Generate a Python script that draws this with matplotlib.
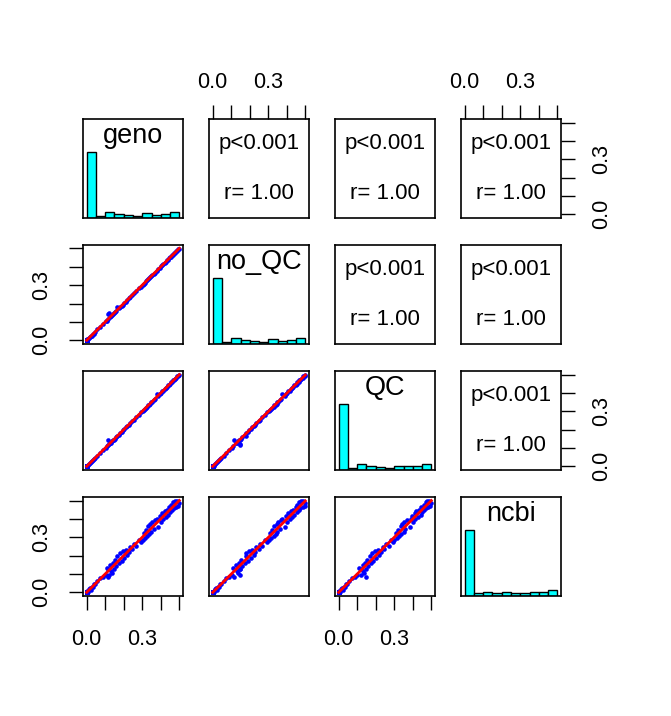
import numpy as np
import matplotlib
matplotlib.use("Agg")
import matplotlib.pyplot as plt

plt.rcParams['font.family'] = ['Liberation Sans', 'DejaVu Sans']

# variable names on the diagonal
names = ["geno", "no_QC", "QC", "ncbi"]

# number of records sitting at zero in every variable (the tall first bar)
n_zero = 110

# non-zero values
geno = [0.004, 0.008, 0.013, 0.018, 0.022, 0.027, 0.033, 0.038, 0.044,
        0.058, 0.071, 0.088,
        0.102, 0.108, 0.113, 0.117, 0.122, 0.128, 0.131, 0.137, 0.142, 0.147,
        0.152, 0.158, 0.166, 0.173, 0.181, 0.188, 0.196,
        0.203, 0.211, 0.219, 0.228, 0.236, 0.247,
        0.256, 0.268, 0.281, 0.293,
        0.302, 0.308, 0.314, 0.321, 0.327, 0.333, 0.338, 0.343, 0.349,
        0.353, 0.361, 0.368, 0.377, 0.386, 0.394,
        0.402, 0.409, 0.414, 0.421, 0.428, 0.434, 0.441, 0.447,
        0.451, 0.457, 0.463, 0.468, 0.472, 0.478, 0.483, 0.489, 0.494, 0.500]

no_qc = [0.005, 0.009, 0.012, 0.019, 0.023, 0.026, 0.034, 0.037, 0.045,
         0.059, 0.072, 0.087,
         0.103, 0.107, 0.114, 0.146, 0.149, 0.127, 0.132, 0.138, 0.141, 0.148,
         0.153, 0.157, 0.180, 0.174, 0.182, 0.189, 0.195,
         0.204, 0.210, 0.221, 0.229, 0.235, 0.248,
         0.257, 0.267, 0.283, 0.292,
         0.303, 0.309, 0.313, 0.322, 0.328, 0.332, 0.339, 0.344, 0.348,
         0.354, 0.362, 0.369, 0.376, 0.387, 0.393,
         0.403, 0.408, 0.415, 0.422, 0.427, 0.435, 0.440, 0.448,
         0.452, 0.456, 0.464, 0.467, 0.473, 0.477, 0.484, 0.488, 0.495, 0.499]

qc = [0.004, 0.009, 0.014, 0.018, 0.021, 0.028, 0.032, 0.039, 0.043,
      0.057, 0.073, 0.089,
      0.101, 0.109, 0.145, 0.118, 0.121, 0.129, 0.130, 0.136, 0.143, 0.146,
      0.151, 0.159, 0.167, 0.172, 0.180, 0.187, 0.197,
      0.202, 0.212, 0.218, 0.227, 0.237, 0.246,
      0.255, 0.269, 0.280, 0.294,
      0.301, 0.307, 0.315, 0.320, 0.326, 0.334, 0.337, 0.342, 0.350,
      0.352, 0.360, 0.367, 0.392, 0.385, 0.395,
      0.401, 0.410, 0.413, 0.420, 0.429, 0.433, 0.442, 0.446,
      0.450, 0.458, 0.462, 0.469, 0.471, 0.479, 0.482, 0.490, 0.493, 0.500]

ncbi = [0.008, 0.004, 0.017, 0.021, 0.015, 0.030, 0.028, 0.044, 0.047,
        0.062, 0.079, 0.083,
        0.095, 0.131, 0.082, 0.126, 0.093, 0.149, 0.117, 0.104, 0.161, 0.128,
        0.176, 0.143, 0.198, 0.160, 0.212, 0.171, 0.224,
        0.187, 0.233, 0.205, 0.221, 0.247, 0.239,
        0.264, 0.251, 0.286, 0.275,
        0.284, 0.322, 0.296, 0.338, 0.305, 0.361, 0.318, 0.372, 0.331,
        0.384, 0.347, 0.392, 0.401, 0.355, 0.418,
        0.386, 0.432, 0.398, 0.445, 0.409, 0.451, 0.423, 0.468,
        0.436, 0.479, 0.447, 0.491, 0.458, 0.497, 0.466, 0.500, 0.472, 0.488]

# upper panel texts
p_text = "p<0.001"
r_text = "r= 1.00"

hist_breaks = [0.0, 0.05, 0.10, 0.15, 0.20, 0.25, 0.30, 0.35, 0.40, 0.45, 0.50]
tick_vals = [0.0, 0.1, 0.2, 0.3, 0.4, 0.5]
tick_labs = ["0.0", "", "", "0.3", "", ""]

data = [np.concatenate([np.zeros(n_zero), np.array(v)]) for v in (geno, no_qc, qc, ncbi)]

W, H = 671, 716
fig = plt.figure(figsize=(W / 100, H / 100), dpi=100)

lefts = [83, 209, 335, 461]
tops = [119, 245, 371, 497]
pw, ph = 100, 99


def lims(v):
    lo, hi = v.min(), v.max()
    pad = (hi - lo) * 0.04
    return lo - pad, hi + pad


def style_ticks(ax, side):
    kw = dict(length=10, width=1.0, labelsize=15.5, color='black')
    if side == 'top':
        ax.xaxis.set_ticks_position('top')
        ax.set_xticks(tick_vals)
        ax.set_xticklabels(tick_labs)
        ax.tick_params(axis='x', direction='out', pad=9, **kw)
    elif side == 'bottom':
        ax.set_xticks(tick_vals)
        ax.set_xticklabels(tick_labs)
        ax.tick_params(axis='x', direction='out', pad=14, **kw)
    elif side == 'left':
        ax.set_yticks(tick_vals)
        ax.set_yticklabels(tick_labs, rotation=90, va='center')
        ax.tick_params(axis='y', direction='out', pad=12, **kw)
    elif side == 'right':
        ax.yaxis.set_ticks_position('right')
        ax.set_yticks(tick_vals)
        ax.set_yticklabels(tick_labs, rotation=90, va='center')
        ax.tick_params(axis='y', direction='out', pad=12, **kw)


n = len(names)
for i in range(n):
    for j in range(n):
        rect = [lefts[j] / W, 1 - (tops[i] + ph) / H, pw / W, ph / H]
        ax = fig.add_axes(rect)
        for sp in ax.spines.values():
            sp.set_linewidth(1.2)
        ax.set_xticks([])
        ax.set_yticks([])
        xv, yv = data[j], data[i]
        ax.set_xlim(*lims(xv))
        if i == j:
            # histogram, scaled so the tallest bar is 1 on a 0..1.5 axis
            counts, edges = np.histogram(xv, bins=hist_breaks)
            ax.bar(edges[:-1], counts / counts.max(), width=np.diff(edges), align='edge',
                   color='cyan', edgecolor='black', linewidth=1.0)
            ax.set_ylim(0, 1.5)
            ax.text(0.5, 0.755, names[i], transform=ax.transAxes, ha='center',
                    va='baseline', fontsize=19.5)
        elif i > j:
            ax.set_ylim(*lims(yv))
            ax.scatter(xv, yv, s=11, color='blue', linewidths=0, zorder=2)
            b, a = np.polyfit(xv, yv, 1)
            xs = np.array([xv.min(), xv.max()])
            ax.plot(xs, a + b * xs, color='red', lw=2, zorder=3)
        else:
            ax.set_ylim(*lims(yv))
            ax.text(0.5, 0.75, p_text, transform=ax.transAxes, ha='center',
                    va='center', fontsize=16)
            ax.text(0.5, 0.25, r_text, transform=ax.transAxes, ha='center',
                    va='center', fontsize=16)

        if i == 0 and j % 2 == 1:
            style_ticks(ax, 'top')
        if i == n - 1 and j % 2 == 0:
            style_ticks(ax, 'bottom')
        if j == 0 and i % 2 == 1:
            style_ticks(ax, 'left')
        if j == n - 1 and i % 2 == 0:
            if i == j:
                ax.set_ylim(*lims(data[i]))
            style_ticks(ax, 'right')

fig.savefig("out.png", dpi=100)
